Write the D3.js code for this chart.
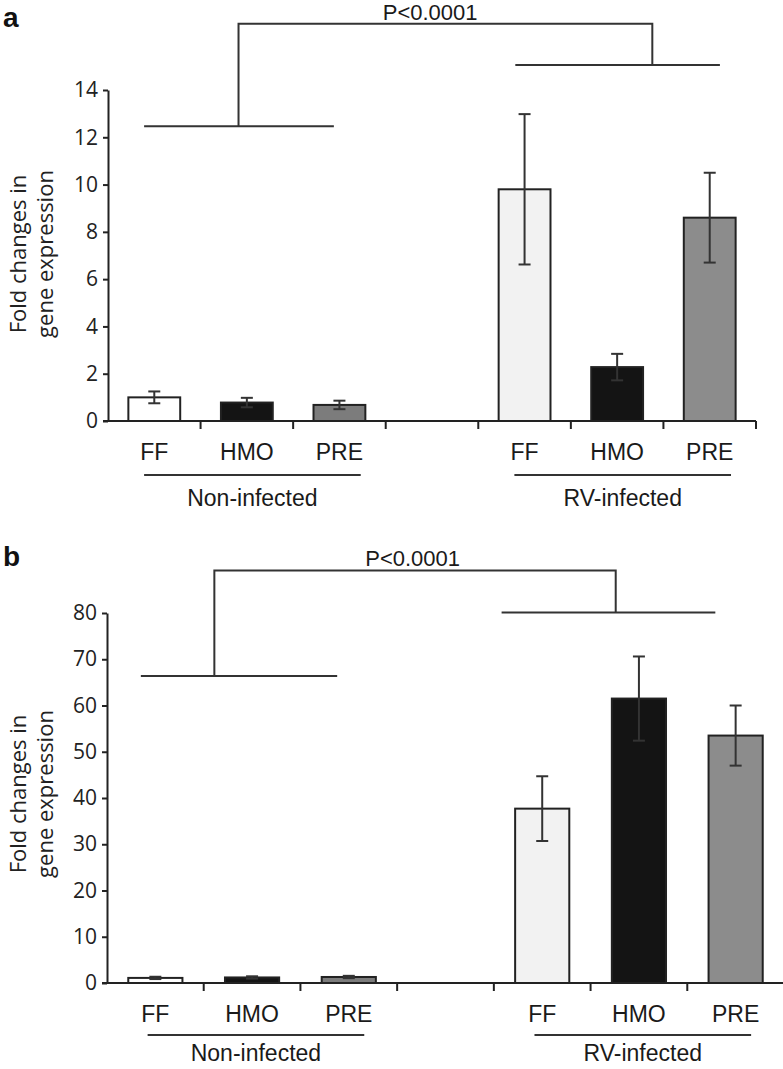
<!DOCTYPE html>
<html>
<head>
<meta charset="utf-8">
<script src="https://cdn.jsdelivr.net/npm/d3@7"></script>
<style>
  body { margin: 0; background: #fff; }
  svg { display: block; }
</style>
</head>
<body>
<div id="chart"></div>
<script>
const width = 783;
const height = 1069;

// categories
const categories = ['FF', 'HMO', 'PRE'];
const groups = ['Non-infected', 'RV-infected'];
const slots = ['FF-N', 'HMO-N', 'PRE-N', 'gap', 'FF-RV', 'HMO-RV', 'PRE-RV'];
const barSlots = ['FF-N', 'HMO-N', 'PRE-N', 'FF-RV', 'HMO-RV', 'PRE-RV'];

// panel a values (mean, error)
const aMeans = [1.0, 0.78, 0.68, 9.8, 2.28, 8.6];
const aErrors = [0.25, 0.2, 0.18, 3.18, 0.56, 1.9];
const aTicks = [0, 2, 4, 6, 8, 10, 12, 14];

// panel b values (mean, error)
const bMeans = [1.1, 1.2, 1.3, 37.7, 61.5, 53.5];
const bErrors = [0.25, 0.25, 0.25, 7.0, 9.1, 6.5];
const bTicks = [0, 10, 20, 30, 40, 50, 60, 70, 80];

const pLabel = 'P<0.0001';
const yTitle = ['Fold changes in', 'gene expression'];

const fills = {
  'FF-N': '#ffffff', 'HMO-N': '#141414', 'PRE-N': '#7c7c7c',
  'FF-RV': '#f2f2f2', 'HMO-RV': '#141414', 'PRE-RV': '#8c8c8c'
};

const svg = d3.select('#chart')
    .append('svg')
    .attr('width', width)
    .attr('height', height)

function panel(opt) {
    const g = svg.append('g')

    const x = d3.scaleBand()
        .domain(slots)
        .range(opt.xRange)
        .paddingInner(0.44)
        .paddingOuter(0.22)

    const step = x.step()
    const slotX = f => opt.xRange[0] + f * step

    const y = d3.scaleLinear()
        .domain(opt.yDomain)
        .range(opt.yRange)

    // y axis
    const yAxis = g.append('g')
        .attr('transform', `translate(${opt.xRange[0]},0)`)
        .call(d3.axisLeft(y).tickValues(opt.ticks).tickSize(5).tickSizeOuter(0).tickPadding(5))
    yAxis.select('.domain').attr('stroke', '#222').attr('stroke-width', 2)
    yAxis.selectAll('.tick line').attr('stroke', '#222').attr('stroke-width', 2)
    yAxis.selectAll('.tick text')
        .attr('font-family', 'Open Sans')
        .attr('font-size', 21)
        .attr('fill', '#222')

    // y title
    yTitle.forEach((t, i) => {
        g.append('text')
            .attr('transform', `translate(${20 + i * 27},${opt.titleY}) rotate(-90)`)
            .attr('text-anchor', 'middle')
            .attr('dominant-baseline', 'middle')
            .attr('font-family', 'Open Sans')
            .attr('font-size', 22)
            .attr('fill', '#222')
            .text(t)
    })

    // bars
    g.selectAll('.bar')
        .data(barSlots)
        .enter()
        .append('rect')
        .attr('x', d => x(d))
        .attr('width', x.bandwidth())
        .attr('y', (d, i) => y(opt.means[i]))
        .attr('height', (d, i) => y(0) - y(opt.means[i]))
        .attr('fill', d => fills[d])
        .attr('stroke', '#222')
        .attr('stroke-width', 2)

    // error bars
    const err = g.selectAll('.err')
        .data(barSlots)
        .enter()
        .append('g')
        .attr('stroke', '#333')
        .attr('stroke-width', 2)
    const cx = d => x(d) + x.bandwidth() / 2
    err.append('line')
        .attr('x1', cx).attr('x2', cx)
        .attr('y1', (d, i) => y(opt.means[i] + opt.errors[i]))
        .attr('y2', (d, i) => y(Math.max(0, opt.means[i] - opt.errors[i])))
    err.append('line')
        .attr('x1', d => cx(d) - 6).attr('x2', d => cx(d) + 6)
        .attr('y1', (d, i) => y(opt.means[i] + opt.errors[i]))
        .attr('y2', (d, i) => y(opt.means[i] + opt.errors[i]))
    err.append('line')
        .attr('x1', d => cx(d) - 6).attr('x2', d => cx(d) + 6)
        .attr('y1', (d, i) => y(Math.max(0, opt.means[i] - opt.errors[i])))
        .attr('y2', (d, i) => y(Math.max(0, opt.means[i] - opt.errors[i])))

    // x axis line and slot ticks
    g.append('line')
        .attr('x1', opt.xRange[0] - 5).attr('x2', opt.xRange[1])
        .attr('y1', y(0)).attr('y2', y(0))
        .attr('stroke', '#222').attr('stroke-width', 2)
    g.selectAll('.xtick')
        .data(d3.range(1, slots.length + 1))
        .enter()
        .append('line')
        .attr('x1', d => slotX(d)).attr('x2', d => slotX(d))
        .attr('y1', y(0)).attr('y2', y(0) + 8)
        .attr('stroke', '#222').attr('stroke-width', 2)

    // category labels
    g.selectAll('.cat')
        .data(barSlots)
        .enter()
        .append('text')
        .attr('x', cx)
        .attr('y', opt.catY)
        .attr('text-anchor', 'middle')
        .attr('font-family', 'Liberation Sans')
        .attr('font-size', 23)
        .attr('fill', '#1a1a1a')
        .text((d, i) => categories[i % 3])

    // group underline and labels
    groups.forEach((grp, i) => {
        const x1 = slotX(i * 4 + opt.uline[0])
        const x2 = slotX(i * 4 + opt.uline[1])
        g.append('line')
            .attr('x1', x1).attr('x2', x2)
            .attr('y1', opt.ulineY).attr('y2', opt.ulineY)
            .attr('stroke', '#333').attr('stroke-width', 2)
        g.append('text')
            .attr('x', (x1 + x2) / 2)
            .attr('y', opt.groupY)
            .attr('text-anchor', 'middle')
            .attr('font-family', 'Liberation Sans')
            .attr('font-size', 23)
            .attr('fill', '#1a1a1a')
            .text(grp)
    })

    // significance bracket
    const br = opt.bracket
    const path = d3.path()
    path.moveTo(slotX(br.left[0]), y(br.leftY))
    path.lineTo(slotX(br.left[1]), y(br.leftY))
    path.moveTo(slotX(br.right[0]), y(br.rightY))
    path.lineTo(slotX(br.right[1]), y(br.rightY))
    path.moveTo(slotX(br.leftMid), y(br.leftY))
    path.lineTo(slotX(br.leftMid), y(br.topY))
    path.lineTo(slotX(br.rightMid), y(br.topY))
    path.lineTo(slotX(br.rightMid), y(br.rightY))
    g.append('path')
        .attr('d', path.toString())
        .attr('fill', 'none')
        .attr('stroke', '#333')
        .attr('stroke-width', 2)

    g.append('text')
        .attr('x', slotX(br.textAt))
        .attr('y', y(br.topY) - 4)
        .attr('text-anchor', 'middle')
        .attr('font-family', 'Liberation Sans')
        .attr('font-size', 22)
        .attr('fill', '#1a1a1a')
        .text(pLabel)

    // panel letter
    g.append('text')
        .attr('x', 3)
        .attr('y', opt.letterY)
        .attr('font-family', 'Liberation Sans')
        .attr('font-weight', 'bold')
        .attr('font-size', 28)
        .attr('fill', '#111')
        .text(opt.letter)
}

panel({
    letter: 'a', letterY: 27,
    xRange: [108, 756], yRange: [421, 90], yDomain: [0, 14],
    means: aMeans, errors: aErrors, ticks: aTicks,
    titleY: 254, catY: 460, ulineY: 475, groupY: 506,
    uline: [0.39, 2.73],
    bracket: { left: [0.39, 2.44], leftMid: 1.41, leftY: 12.47,
               right: [4.4, 6.61], rightMid: 5.88, rightY: 15.06,
               topY: 16.8, textAt: 3.48 }
})

panel({
    letter: 'b', letterY: 566,
    xRange: [107, 784], yRange: [983, 613], yDomain: [0, 80],
    means: bMeans, errors: bErrors, ticks: bTicks,
    titleY: 794, catY: 1022, ulineY: 1035, groupY: 1061,
    uline: [0.42, 2.66],
    bracket: { left: [0.35, 2.38], leftMid: 1.11, leftY: 66.4,
               right: [4.08, 6.29], rightMid: 5.26, rightY: 80.1,
               topY: 89.2, textAt: 3.16 }
})
</script>
</body>
</html>
